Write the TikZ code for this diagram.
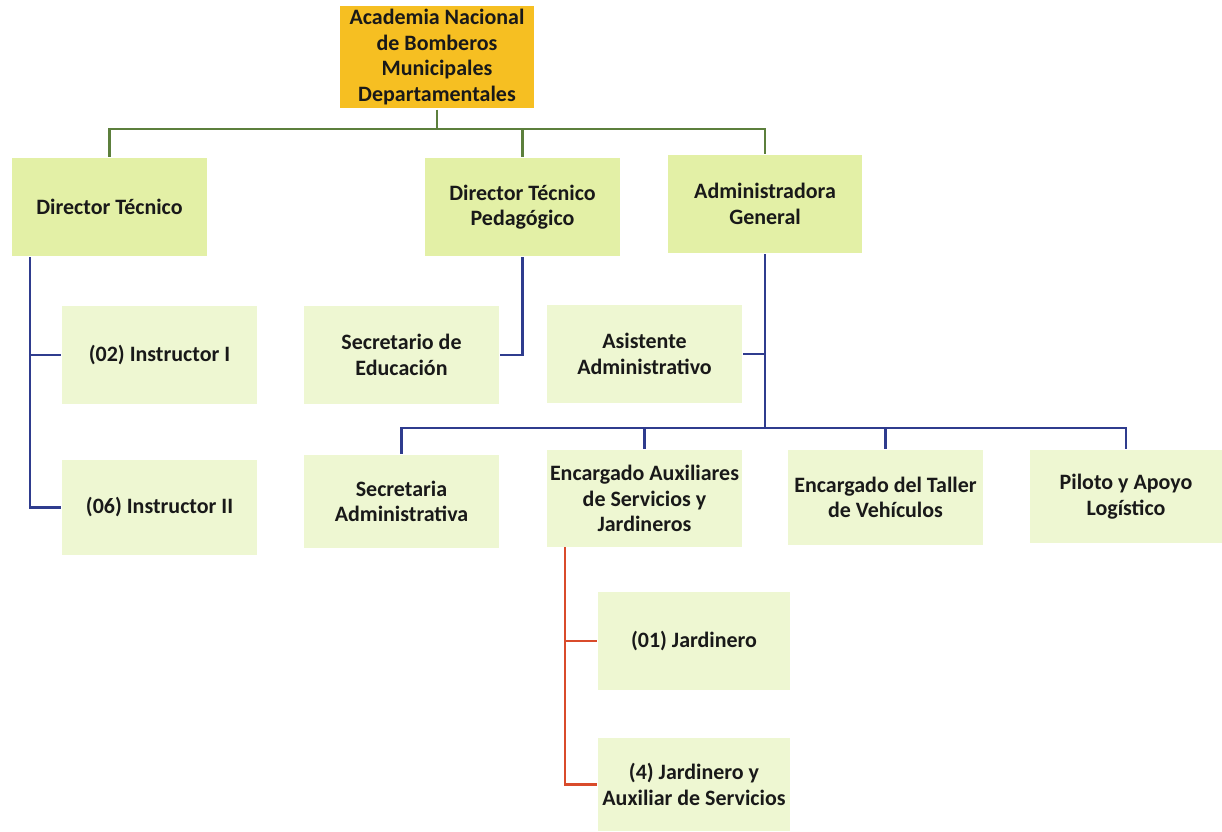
\documentclass[tikz,border=0pt]{standalone}
\usepackage{fontspec}
\setmainfont{Carlito}
\definecolor{naranja}{HTML}{F6BF22}
\definecolor{verdeA}{HTML}{E3F0A6}
\definecolor{verdeB}{HTML}{EEF7D2}
\definecolor{lineaV}{HTML}{5C7F3C}
\definecolor{azul}{HTML}{2F3C8E}
\definecolor{rojo}{HTML}{D94B2B}
\tikzset{
  caja/.style={align=center, font=\bfseries\fontsize{12.5}{14.5}\selectfont, text=black!90,
    minimum width=3.9cm, minimum height=1.96cm, inner sep=1pt},
  jefe/.style={caja, fill=verdeA},
  sub/.style={caja, fill=verdeB},
}
\begin{document}
\begin{tikzpicture}[x=0.02cm, y=-0.02cm, line width=1.2pt]
  \useasboundingbox (0,0) rectangle (1222,831);

  % Dirección
  \node[caja, fill=naranja, minimum height=2.06cm] (acad) at (437,57)
    {Academia Nacional\\de Bomberos\\Municipales\\Departamentales};

  % Primer nivel
  \node[jefe] (dt) at (109.5,207) {Director Técnico};
  \node[jefe] (dtp) at (522.5,207) {Director Técnico\\Pedagógico};
  \node[jefe] (adm) at (765,204) {Administradora\\General};

  % Segundo nivel
  \node[sub] (ins1) at (159.5,355) {(02) Instructor I};
  \node[sub, minimum height=1.9cm] (ins2) at (159.5,507.5) {(06) Instructor II};
  \node[sub] (sec) at (401.5,355) {Secretario de\\Educación};
  \node[sub] (asis) at (644.5,354) {Asistente\\Administrativo};
  \node[sub, minimum height=1.86cm] (secad) at (401.5,501.5) {Secretaria\\Administrativa};
  \node[sub, minimum height=1.94cm] (enc) at (644.5,498.5)
    {Encargado Auxiliares\\de Servicios y\\Jardineros};
  \node[sub, minimum height=1.9cm] (taller) at (885.5,497.5) {Encargado del Taller\\de Vehículos};
  \node[sub, minimum height=1.86cm, minimum width=3.84cm] (piloto) at (1126,496.5)
    {Piloto y Apoyo\\Logístico};

  % Tercer nivel
  \node[sub, minimum width=3.84cm] (jar1) at (694,641) {(01) Jardinero};
  \node[sub, minimum width=3.84cm, minimum height=1.86cm] (jar2) at (694,784.5)
    {(4) Jardinero y\\Auxiliar de Servicios};

  % Líneas de la dirección
  \coordinate (barra) at (437,129);
  \draw[lineaV] (acad) -- (barra);
  \draw[lineaV] (dt.north) |- (barra) -| (adm.north);
  \draw[lineaV] (barra -| dtp.north) -- (dtp.north);

  % Director técnico
  \coordinate (dtl) at (30,257);
  \draw[azul] (dtl) |- (ins2.west);
  \draw[azul] (dtl |- ins1.west) -- (ins1.west);

  % Pedagógico
  \draw[azul] (dtp.south) |- (sec.east);

  % Administración
  \coordinate (barra2) at (765,428);
  \draw[azul] (adm.south) -- (barra2);
  \draw[azul] (adm.south |- asis.east) -- (asis.east);
  \draw[azul] (secad.north) |- (barra2) -| (piloto.north);
  \draw[azul] (barra2 -| enc.north) -- (enc.north);
  \draw[azul] (barra2 -| taller.north) -- (taller.north);

  % Jardineros
  \coordinate (encl) at (565,547);
  \draw[rojo] (encl) |- (jar2.west);
  \draw[rojo] (encl |- jar1.west) -- (jar1.west);
\end{tikzpicture}
\end{document}
